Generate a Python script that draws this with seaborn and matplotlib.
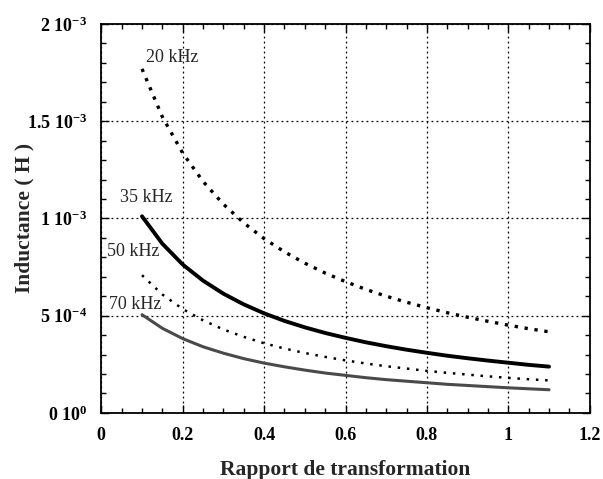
import matplotlib
matplotlib.use("Agg")
import matplotlib.pyplot as plt
from matplotlib.ticker import MultipleLocator, FixedLocator, FixedFormatter
import pandas as pd
import seaborn as sns

# rapport de transformation
rapport = [0.10, 0.15, 0.20, 0.25, 0.30, 0.35, 0.40, 0.45, 0.50, 0.55, 0.60,
           0.65, 0.70, 0.75, 0.80, 0.85, 0.90, 0.95, 1.00, 1.05, 1.10]

# inductance in mH
ind_20k = [1.769, 1.522, 1.336, 1.190, 1.073, 0.977, 0.896, 0.828, 0.770, 0.719, 0.675,
           0.635, 0.600, 0.569, 0.541, 0.515, 0.492, 0.471, 0.451, 0.433, 0.417]
ind_35k = [1.011, 0.870, 0.763, 0.680, 0.613, 0.558, 0.512, 0.473, 0.440, 0.411, 0.386,
           0.363, 0.343, 0.325, 0.309, 0.294, 0.281, 0.269, 0.258, 0.247, 0.238]
ind_50k = [0.708, 0.609, 0.534, 0.476, 0.429, 0.391, 0.358, 0.331, 0.308, 0.288, 0.270,
           0.254, 0.240, 0.228, 0.216, 0.206, 0.197, 0.188, 0.180, 0.173, 0.167]
ind_70k = [0.505, 0.435, 0.382, 0.340, 0.307, 0.279, 0.256, 0.237, 0.220, 0.205, 0.193,
           0.181, 0.171, 0.163, 0.155, 0.147, 0.141, 0.135, 0.129, 0.124, 0.119]

freq_labels = ["20 kHz", "35 kHz", "50 kHz", "70 kHz"]
label_x = [0.111, 0.045, 0.013, 0.020]
label_y = [1.825e-3, 1.108e-3, 0.83e-3, 0.557e-3]

ytick_vals = [0, 5e-4, 1e-3, 1.5e-3, 2e-3]
ytick_text = [r"$\mathbf{0\ 10^{0}}$", r"$\mathbf{5\ 10^{-4}}$", r"$\mathbf{1\ 10^{-3}}$",
              r"$\mathbf{1.5\ 10^{-3}}$", r"$\mathbf{2\ 10^{-3}}$"]

sns.set_style("ticks")
plt.rcParams['font.family'] = ['Liberation Serif', 'DejaVu Serif']
plt.rcParams['mathtext.fontset'] = 'custom'
plt.rcParams['mathtext.rm'] = 'Liberation Serif:bold'
plt.rcParams['mathtext.bf'] = 'Liberation Serif:bold'
plt.rcParams['mathtext.it'] = 'Liberation Serif:bold:italic'

rows = []
for name, vals in zip(freq_labels, [ind_20k, ind_35k, ind_50k, ind_70k]):
    for x, v in zip(rapport, vals):
        rows.append({"rapport": x, "L": v * 1e-3, "freq": name})
df = pd.DataFrame(rows)

styles = {
    "20 kHz": dict(color="black", lw=2.4, linestyle=(0, (1, 2.0))),
    "35 kHz": dict(color="black", lw=2.8, linestyle="-"),
    "50 kHz": dict(color="black", lw=1.8, linestyle=(0, (1, 2.7))),
    "70 kHz": dict(color="#4a4a4a", lw=2.2, linestyle="-"),
}

fig = plt.figure(figsize=(6.03, 4.79), dpi=100)
ax = fig.add_axes([0.168, 0.138, 0.810, 0.812])

for name in freq_labels:
    sub = df[df["freq"] == name]
    sns.lineplot(data=sub, x="rapport", y="L", ax=ax, dash_capstyle="butt", **styles[name])

for txt, tx, ty in zip(freq_labels, label_x, label_y):
    ax.text(tx, ty, txt, fontsize=13, va="center", ha="left")

ax.set_xlim(0, 1.2)
ax.set_ylim(0, 2e-3)
ax.xaxis.set_minor_locator(MultipleLocator(0.05))
ax.yaxis.set_major_locator(FixedLocator(ytick_vals))
ax.yaxis.set_major_formatter(FixedFormatter(ytick_text))
ax.yaxis.set_minor_locator(MultipleLocator(1e-4))
ax.set_xticks([0, 0.2, 0.4, 0.6, 0.8, 1.0, 1.2])
ax.set_xticklabels(["0", "0.2", "0.4", "0.6", "0.8", "1", "1.2"], fontweight="bold")

ax.tick_params(which="both", direction="in", top=True, right=True, width=1, colors="black")
ax.tick_params(which="major", length=6, labelsize=13)
ax.tick_params(axis="x", which="major", pad=10)
ax.tick_params(axis="y", which="major", pad=10)
ax.tick_params(which="minor", length=3.5)

ax.grid(which="major", color="black", linestyle=(0, (1.5, 2.5)), linewidth=0.9)
for s in ax.spines.values():
    s.set_linewidth(1.3)
    s.set_color("black")

ax.set_xlabel("Rapport de transformation", fontsize=15.5, fontweight="bold", labelpad=12)
ax.set_ylabel("Inductance ( H )", fontsize=15.5, fontweight="bold")
ax.yaxis.set_label_coords(-0.136, 0.5)

fig.savefig("out.png", dpi=100)
